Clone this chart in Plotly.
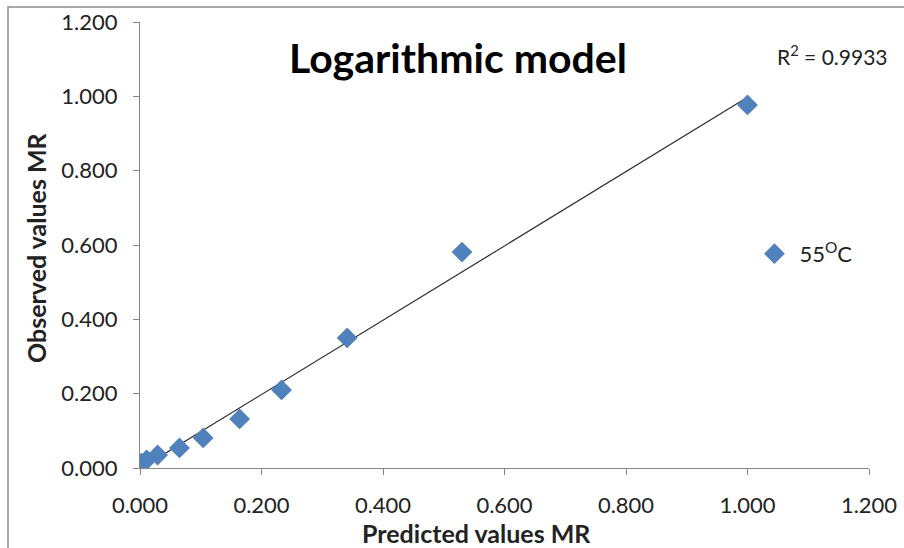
import numpy as np
import plotly.graph_objects as go

# Data
predicted_mr = [1.000, 0.530, 0.341, 0.233, 0.164, 0.104, 0.065, 0.029, 0.011, 0.002]
observed_mr = [0.977, 0.581, 0.350, 0.210, 0.132, 0.081, 0.054, 0.035, 0.022, 0.013]
series_name = "55<sup>O</sup>C"
r2_label = "R<sup>2</sup> = 0.9933"
title_text = "Logarithmic model"
x_title = "Predicted values MR"
y_title = "Observed values MR"
tick_vals = [0.0, 0.2, 0.4, 0.6, 0.8, 1.0, 1.2]

FONT = "Lato, 'Open Sans', 'Liberation Sans', sans-serif"
BLUE = "#4F81BD"
AXIS = "#868686"

# linear trendline (least squares through the data)
xs = np.array(predicted_mr)
ys = np.array(observed_mr)
slope, intercept = np.polyfit(xs, ys, 1)
tx = np.array([xs.min(), xs.max()])
ty = slope * tx + intercept

fig = go.Figure()
fig.add_trace(go.Scatter(
    x=tx, y=ty, mode="lines",
    line=dict(color="#2b2b2b", width=1.2),
    showlegend=False, hoverinfo="skip",
))
fig.add_trace(go.Scatter(
    x=predicted_mr, y=observed_mr, mode="markers", name=series_name,
    marker=dict(symbol="diamond", size=16, color=BLUE, line=dict(width=0)),
))

axis_common = dict(
    range=[0, 1.2], tickvals=tick_vals, tickformat=".3f",
    showgrid=False, zeroline=False, showline=True, linecolor=AXIS, linewidth=1.2,
    ticks="outside", ticklen=6, tickcolor=AXIS, tickwidth=1.2,
    tickfont=dict(family=FONT, size=22, color="#222222"),
    ticklabelstandoff=11, automargin=False,
)

fig.update_layout(
    width=904, height=548,
    margin=dict(l=140, r=35, t=22, b=80),
    paper_bgcolor="white", plot_bgcolor="white",
    xaxis=axis_common,
    yaxis=axis_common,
    showlegend=True,
    legend=dict(
        x=0.836, y=0.48, xanchor="left", yanchor="middle",
        itemwidth=40,
        font=dict(family=FONT, size=22, color="#222222"),
        bgcolor="rgba(0,0,0,0)",
    ),
    annotations=[
        dict(text="<b>" + title_text + "</b>", xref="paper", yref="paper",
             x=(458 - 140) / 729, y=1 - (57 - 22) / 446, xanchor="center", yanchor="middle",
             showarrow=False, font=dict(family=FONT, size=41, color="black")),
        dict(text=r2_label, xref="paper", yref="paper",
             x=(775 - 140) / 729, y=1 - (55 - 22) / 446, xanchor="left", yanchor="middle",
             showarrow=False, font=dict(family=FONT, size=21, color="#222222")),
        dict(text="<b>" + x_title + "</b>", xref="paper", yref="paper",
             x=(476 - 140) / 729, y=1 - (533 - 22) / 446, xanchor="center", yanchor="middle",
             showarrow=False, font=dict(family=FONT, size=25, color="#222222")),
        dict(text="<b>" + y_title + "</b>", xref="paper", yref="paper",
             x=(36 - 140) / 729, y=1 - (248 - 22) / 446, xanchor="center", yanchor="middle",
             textangle=-90,
             showarrow=False, font=dict(family=FONT, size=25, color="#222222")),
    ],
    shapes=[
        dict(type="rect", xref="paper", yref="paper",
             x0=(8 - 140) / 729, x1=1.2, y0=-0.3, y1=1 + (22 - 7) / 446,
             line=dict(color="#8c8c8c", width=1.5), layer="below"),
    ],
)

fig.write_html(
    "out.html",
    config={"responsive": False, "displayModeBar": False},
    post_script="document.body.style.margin='0';document.body.style.padding='0';",
)
